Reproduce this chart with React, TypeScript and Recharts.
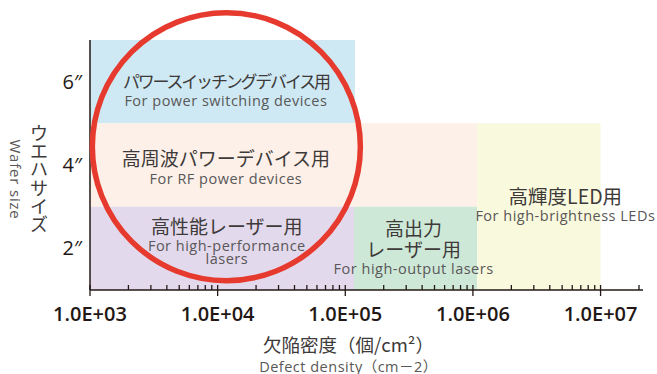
import { ScatterChart, Scatter, XAxis, YAxis, ReferenceArea, ReferenceDot } from 'recharts';

// application regions: defect density (x, cm^-2) vs wafer size (y, inch)
const regionIds = ['power', 'rf', 'performance', 'output', 'led'];
const regionXFrom = [1e3, 1e3, 1e3, 1.17e5, 1.08e6];
const regionXTo = [1.19e5, 1.08e6, 1.17e5, 1.08e6, 1e7];
const regionYFrom = [5, 3, 1, 1, 1];
const regionYTo = [7, 5, 3, 3, 5];
const labelsJa = [['パワースイッチングデバイス用'], ['高周波パワーデバイス用'], ['高性能レーザー用'], ['高出力', 'レーザー用'], ['高輝度LED用']];
const labelsEn = [['For power switching devices'], ['For RF power devices'], ['For high-performance', 'lasers'], ['For high-output lasers'], ['For high-brightness LEDs']];
const labelX = [11600, 11600, 11800, 343000, 5.3e6];
const labelY = [6.04, 4.17, 2.55, 2.49, 3.27];

const majorTicks = [1e3, 1e4, 1e5, 1e6, 1e7];
const minorSteps = [2, 3, 4, 5, 6, 7, 8, 9];
const yTicks = [2, 4, 6];
const highlight = { x: 11700, y: 4.44 };

const fills = ['#cee9f4', '#fcf0e9', '#e3d9ec', '#cee8d8', '#f9f9de'];
const jaSize = [17, 19, 19, 19, 19.5];
const jaSpacing = [-2.2, 0, 0, 0, 0];

const JA = "'Noto Sans CJK JP', sans-serif";
const EN = "'Open Sans', 'Noto Sans CJK JP', sans-serif";
const INK = '#231815';

const xTicks = [
  ...majorTicks,
  ...majorTicks.flatMap((d) => minorSteps.map((m) => d * m)).filter((v) => v <= 2e7),
].sort((a, b) => a - b);

const labelData = regionIds.map((id, i) => ({
  id,
  i,
  x: labelX[i],
  y: labelY[i],
  ja: labelsJa[i],
  en: labelsEn[i],
}));

const fmtExp = (v: number) => `1.0E+${String(Math.round(Math.log10(v))).padStart(2, '0')}`;

function XTick({ x, y, payload }: any) {
  const major = majorTicks.includes(payload.value);
  return (
    <g>
      <line x1={x} x2={x} y1={y - 5} y2={major ? y + 6 : y} stroke={INK} strokeWidth={1.3} />
      {major && (
        <text x={x} y={y + 31} textAnchor="middle" fill={INK} fontFamily={EN} fontSize={20} fontWeight={600}>
          {fmtExp(payload.value)}
        </text>
      )}
    </g>
  );
}

function RegionLabel({ cx, cy, payload }: any) {
  const rows = [
    ...payload.ja.map((t: string) => ({ t, ja: true })),
    ...payload.en.map((t: string) => ({ t, ja: false })),
  ];
  let y = cy;
  return (
    <g>
      {rows.map((r, k) => {
        if (k > 0) y += rows[k - 1].ja ? 20.5 : 13;
        return (
          <text
            key={k}
            x={cx}
            y={y}
            textAnchor="middle"
            dominantBaseline="central"
            fill={r.ja ? '#3e3a39' : '#595757'}
            fontFamily={r.ja ? JA : EN}
            fontSize={r.ja ? jaSize[payload.i] : 14.5}
            letterSpacing={r.ja ? jaSpacing[payload.i] : 0.5}
          >
            {r.t}
          </text>
        );
      })}
    </g>
  );
}

function XTitle({ viewBox }: any) {
  const vb = viewBox ?? { x: 90, y: 290, width: 553, height: 84 };
  const cx = vb.x + vb.width / 2 - 18;
  return (
    <g>
      <text x={cx} y={vb.y + 54} textAnchor="middle" dominantBaseline="central" fill="#3e3a39" fontFamily={JA} fontSize={18.5}>
        欠陥密度（個/cm²）
      </text>
      <text
        x={cx}
        y={vb.y + 76}
        textAnchor="middle"
        dominantBaseline="central"
        fill="#595757"
        fontFamily={EN}
        fontSize={14.5}
        letterSpacing={0.5}
      >
        Defect density（cm－2）
      </text>
    </g>
  );
}

function YTitle({ viewBox }: any) {
  const vb = viewBox ?? { x: 0, y: 40, width: 90, height: 250 };
  const mid = vb.y + vb.height / 2 + 12.5;
  const chars = 'ウエハサイズ'.split('');
  return (
    <g>
      {chars.map((c, k) => (
        <text
          key={k}
          x={vb.x + 39}
          y={mid + (k - (chars.length - 1) / 2) * 18.2}
          textAnchor="middle"
          dominantBaseline="central"
          fill="#3e3a39"
          fontFamily={JA}
          fontSize={18}
        >
          {c}
        </text>
      ))}
      <text
        x={vb.x + 16}
        y={mid + 2}
        transform={`rotate(90 ${vb.x + 16} ${mid + 2})`}
        textAnchor="middle"
        dominantBaseline="central"
        fill="#595757"
        fontFamily={EN}
        fontSize={15}
        letterSpacing={0.8}
      >
        Wafer size
      </text>
    </g>
  );
}

export default function App() {
  return (
    <div style={{ position: 'absolute', left: 0, top: 0, background: '#fff' }}>
      <ScatterChart width={657} height={374} margin={{ top: 40, right: 14, bottom: 0, left: 0 }}>
        <XAxis
          type="number"
          dataKey="x"
          scale="log"
          domain={[1000, 21500000]}
          ticks={xTicks}
          interval={0}
          tick={<XTick />}
          tickLine={false}
          tickSize={0}
          tickMargin={0}
          axisLine={{ stroke: INK, strokeWidth: 1.5 }}
          height={84}
          label={<XTitle />}
        />
        <YAxis
          type="number"
          dataKey="y"
          domain={[1, 7]}
          ticks={yTicks}
          interval={0}
          tickFormatter={(v: number) => `${v}″`}
          tick={{ fill: INK, fontFamily: EN, fontSize: 20 }}
          tickLine={false}
          tickSize={0}
          tickMargin={8}
          axisLine={{ stroke: INK, strokeWidth: 1.5 }}
          width={90}
          label={<YTitle />}
        />
        {regionIds.map((id, i) => (
          <ReferenceArea
            key={id}
            x1={regionXFrom[i]}
            x2={regionXTo[i]}
            y1={regionYFrom[i]}
            y2={regionYTo[i]}
            fill={fills[i]}
            fillOpacity={1}
            stroke="none"
          />
        ))}
        <Scatter data={labelData} shape={<RegionLabel />} isAnimationActive={false} />
        <ReferenceDot
          x={highlight.x}
          y={highlight.y}
          r={134}
          fill="none"
          stroke="#e53a2d"
          strokeWidth={5.5}
          ifOverflow="visible"
        />
      </ScatterChart>
    </div>
  );
}
